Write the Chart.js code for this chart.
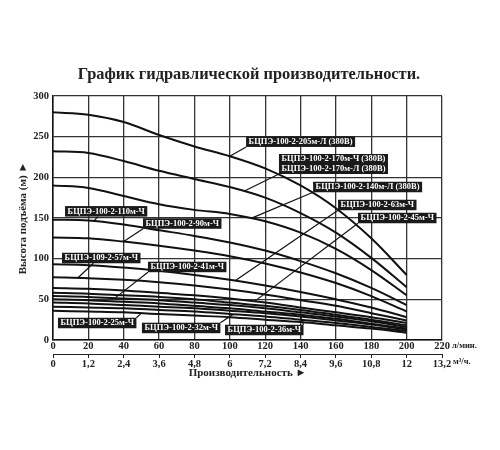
<!DOCTYPE html>
<html><head><meta charset="utf-8">
<script src="https://cdn.jsdelivr.net/npm/chart.js@4"></script>
<style>html,body{margin:0;padding:0;background:#fff}#wrap{width:500px;height:450px}</style>
</head><body><div id="wrap"><canvas id="c" width="500" height="450"></canvas></div>
<script>
// flow points, l/min
const flowLpm = [0, 20, 40, 60, 80, 100, 120, 140, 160, 180, 200];
// head curves, m
const head205L = [280, 277, 268, 252, 238, 226, 211, 190, 162, 125, 80];
const head170Ch = [232, 230, 220, 208, 198, 188, 175, 156, 132, 101, 65];
const head170L = [190, 187, 177, 167, 160, 155, 146, 132, 112, 86, 55];
const head110 = [148, 147, 142, 135, 128, 120, 110, 97, 82, 64, 43];
const head90 = [126, 125, 121, 116, 110, 103, 94, 83, 70, 54, 35];
const head63 = [93, 92, 89, 85, 80, 74, 67, 59, 50, 40, 28];
const head57 = [77, 76, 74, 71, 67, 62, 56, 49, 42, 33, 24];
const head45 = [64, 63, 61, 58, 55, 51, 46, 40, 34, 28, 21];
const head41a = [58, 57, 55, 53, 50, 46, 42, 37, 31, 25, 18];
const head41b = [54, 53, 51, 49, 46, 43, 39, 34, 29, 23, 16];
const head36a = [50, 49, 47, 45, 42, 39, 35, 31, 26, 20, 14];
const head36b = [46, 45, 43, 41, 39, 36, 33, 29, 24, 19, 13];
const head32 = [41, 40, 39, 37, 35, 32, 29, 25, 21, 16, 11];
const head25 = [36, 35, 34, 32, 30, 28, 25, 22, 18, 14, 9];
const curves = [head205L, head170Ch, head170L, head110, head90, head63, head57, head45, head41a, head41b, head36a, head36b, head32, head25];

// axis settings
const xMax = 220, xStep = 20, yMax = 300, yStep = 50;
const lpmToM3h = 0.06;
const chartTitle = 'График гидравлической производительности.';

// model labels: text lines, box anchor (flow, head), leader target (curve index, flow)
const labelTexts = [
  ['БЦПЭ-100-2-205м-Л (380В)'],
  ['БЦПЭ-100-2-170м-Ч (380В)', 'БЦПЭ-100-2-170м-Л (380В)'],
  ['БЦПЭ-100-2-140м-Л (380В)'],
  ['БЦПЭ-100-2-63м-Ч'],
  ['БЦПЭ-100-2-45м-Ч'],
  ['БЦПЭ-100-2-110м-Ч'],
  ['БЦПЭ-100-2-90м-Ч'],
  ['БЦПЭ-109-2-57м-Ч'],
  ['БЦПЭ-100-2-41м-Ч'],
  ['БЦПЭ-100-2-25м-Ч'],
  ['БЦПЭ-100-2-32м-Ч'],
  ['БЦПЭ-100-2-36м-Ч']
];
const labelAnchors = [[109.2, 243.8], [127.8, 216.4], [147.1, 188.1], [161.2, 166], [172.5, 150], [6.8, 158.2], [50.9, 143.2], [5.1, 100.8], [53.7, 89.8], [2.8, 20.9], [50.3, 14.8], [97.3, 12.3]];
const leaderTargets = [[0, 100], [1, 108], [2, 112], [5, 103], [7, 114], [3, 23], [4, 40], [6, 14], [9, 35], [13, 50], [12, 102], [11, 140]];
const leaderFrom = ['bl', 'bl', 'bl', 'bl', 'bl', 'bm', 'bl', 'bm', 'bl', 'tr', 'tr', 'tr'];

const serif = "'Liberation Serif', 'DejaVu Serif', serif";

function interp(arr, x) {
  for (let i = 0; i < flowLpm.length - 1; i++) {
    if (x >= flowLpm[i] && x <= flowLpm[i + 1]) {
      const t = (x - flowLpm[i]) / (flowLpm[i + 1] - flowLpm[i]);
      return arr[i] + t * (arr[i + 1] - arr[i]);
    }
  }
  return arr[arr.length - 1];
}

const overlay = {
  id: 'overlay',
  beforeDraw(chart) {
    const ctx = chart.ctx;
    ctx.save(); ctx.fillStyle = '#fff'; ctx.fillRect(0, 0, chart.width, chart.height); ctx.restore();
  },
  afterDatasetsDraw(chart) {
    const ctx = chart.ctx, xs = chart.scales.x, ys = chart.scales.y;
    ctx.save();
    ctx.font = 'bold 8.5px ' + serif;
    ctx.textBaseline = 'middle';
    const lh = 9.5;
    labelTexts.forEach((lines, i) => {
      const w = Math.max(...lines.map(t => ctx.measureText(t).width)) + 5;
      const h = lines.length * lh + 1;
      const bx = xs.getPixelForValue(labelAnchors[i][0]);
      const by = ys.getPixelForValue(labelAnchors[i][1]) - h / 2;
      const [ci, fx] = leaderTargets[i];
      const tx = xs.getPixelForValue(fx), ty = ys.getPixelForValue(interp(curves[ci], fx));
      let sx = bx, sy = by + h;
      if (leaderFrom[i] === 'tr') { sx = bx + w; sy = by; }
      if (leaderFrom[i] === 'bm') { sx = bx + w * 0.4; sy = by + h; }
      ctx.strokeStyle = '#111'; ctx.lineWidth = 1.2;
      ctx.beginPath(); ctx.moveTo(sx, sy); ctx.lineTo(tx, ty); ctx.stroke();
      ctx.fillStyle = '#1a1a1a';
      ctx.fillRect(bx, by, w, h);
      ctx.fillStyle = '#fff';
      lines.forEach((t, k) => ctx.fillText(t, bx + 2.5, by + 0.5 + lh * (k + 0.5)));
    });
    ctx.restore();
  },
  afterDraw(chart) {
    const ctx = chart.ctx, xs = chart.scales.x, x2 = chart.scales.x2;
    ctx.save();
    ctx.fillStyle = '#222';
    ctx.textBaseline = 'middle';
    ctx.textAlign = 'center';
    ctx.font = 'bold 16.4px ' + serif;
    ctx.fillText(chartTitle, 249, 75);
    ctx.textAlign = 'left';
    ctx.font = 'bold 8.5px ' + serif;
    const px = xs.getPixelForValue(xMax) + 10;
    ctx.fillText('л/мин.', px, xs.top + 6);
    ctx.fillText('м³/ч.', px + 1, x2.top + 8);
    ctx.restore();
  }
};

const tickFont = { family: serif, size: 10.5, weight: 'bold' };
new Chart(document.getElementById('c'), {
  type: 'line',
  data: {
    datasets: curves.map((c, i) => ({
      label: 'c' + i,
      data: flowLpm.map((x, k) => ({ x, y: c[k] })),
      borderColor: '#111', borderWidth: 2, pointRadius: 0,
      tension: 0.35, fill: false
    }))
  },
  plugins: [overlay],
  options: {
    responsive: false, animation: false,
    layout: { padding: { left: 0, right: 58, top: 96, bottom: 56 } },
    plugins: {
      legend: { display: false }, tooltip: { enabled: false }, title: { display: false }
    },
    scales: {
      x: {
        type: 'linear', min: 0, max: xMax, weight: 0,
        ticks: { stepSize: xStep, font: tickFont, color: '#222', padding: 0, maxRotation: 0, autoSkip: false },
        grid: { color: '#333', lineWidth: 1.3, drawTicks: false },
        border: { color: '#111', width: 1.5 },
        afterFit: s => { s.height = 14; }
      },
      x2: {
        type: 'linear', position: 'bottom', min: 0, max: xMax, weight: 1,
        ticks: { stepSize: xStep, font: tickFont, color: '#222', padding: 0, maxRotation: 0, autoSkip: false,
          callback: v => String(Math.round(v * lpmToM3h * 10) / 10).replace('.', ',') },
        grid: { drawOnChartArea: false, drawTicks: true, tickLength: 4, color: '#222' },
        border: { color: '#222', width: 1 },
        title: { display: true, text: 'Производительность ►', color: '#222',
          font: { family: serif, size: 11, weight: 'bold' }, padding: { top: 0, bottom: 14 } },
        afterFit: s => { s.height = 40; }
      },
      y: {
        min: 0, max: yMax,
        ticks: { stepSize: yStep, font: tickFont, color: '#222', padding: 4 },
        grid: { color: '#333', lineWidth: 1.3, drawTicks: false },
        border: { color: '#111', width: 1.5 },
        title: { display: true, text: 'Высота подъёма (м) ►', color: '#222',
          font: { family: serif, size: 11, weight: 'bold' }, padding: { top: 17 } },
        afterFit: s => { s.width = 53; }
      }
    }
  }
});
</script></body></html>
